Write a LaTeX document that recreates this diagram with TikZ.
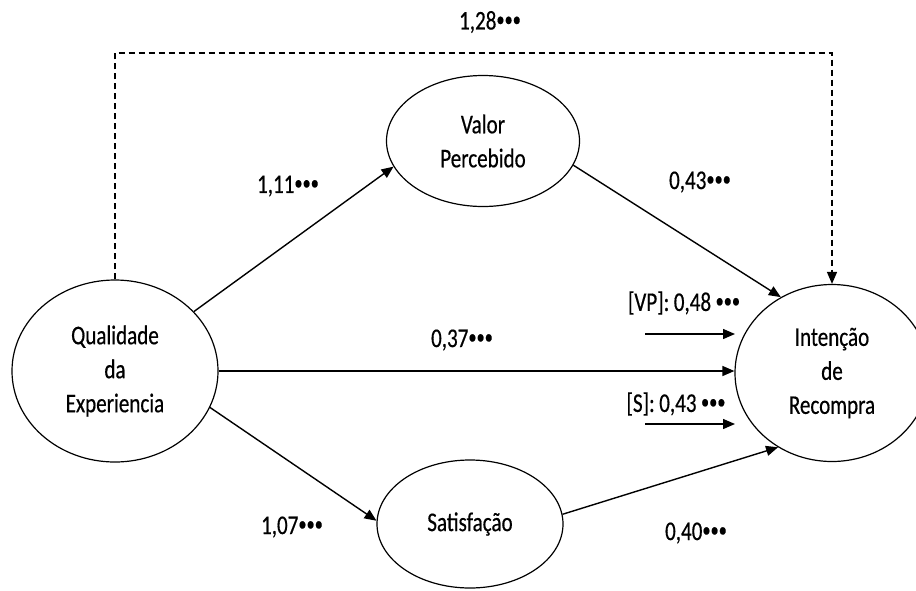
\documentclass[tikz,border=0pt]{standalone}
\usepackage{fontspec}
\setmainfont{Carlito}[FakeStretch=0.78, FakeBold=0.5]
\usetikzlibrary{arrows.meta,shapes.geometric}
\newcommand{\sig}{\raisebox{0.25ex}{\fontsize{21}{21}\selectfont •••}}
\tikzset{
  latent/.style={draw, ellipse, line width=1.2pt, inner sep=0pt, align=center,
    font=\fontsize{27}{34}\selectfont},
  path/.style={line width=1.4pt, -{Triangle[length=12pt,width=10pt]}},
  direct/.style={path, dash pattern=on 6pt off 4pt},
  coef/.style={font=\fontsize{27}{30}\selectfont, inner sep=0pt}
}
\begin{document}
\begin{tikzpicture}[x=1pt,y=-1pt]
\useasboundingbox (0,0) rectangle (916,590);

% latent constructs
\node[latent, minimum width=206, minimum height=182] (qe) at (115,371) {Qualidade\\da\\Experiencia};
\node[latent, minimum width=193, minimum height=131] (vp) at (483,141) {Valor\\Percebido};
\node[latent, minimum width=186, minimum height=128] (sat) at (470,524) {Satisfação};
\node[latent, minimum width=194, minimum height=177] (ir) at (832,373) {Intenção\\de\\Recompra};

% structural paths
\draw[path] (qe.37) -- (vp.196);
\draw[path] (vp.-15) -- (ir.124);
\draw[path] (qe.east) -- (qe.east -| ir.west);
\draw[path] (qe.-21) -- (sat.178);
\draw[path] (sat.6) -- (ir.234);

% total effect
\coordinate (topline) at (0,53);
\draw[direct] (qe.north) -- (qe.north |- topline) -- (ir.north |- topline) -- (ir.north);

% indirect effects
\coordinate (vpind0) at (645,334);
\coordinate (vpind1) at (735,334);
\coordinate (sind0) at (645,424);
\coordinate (sind1) at (735,424);
\draw[path] (vpind0) -- (vpind1);
\draw[path] (sind0) -- (sind1);

% coefficients
\node[coef] (c128) at (490,22) {1,28\sig};
\node[coef] (c111) at (288,186) {1,11\sig};
\node[coef] (c043) at (700,182) {0,43\sig};
\node[coef] (c037) at (462,340) {0,37\sig};
\node[coef] (cvp) at (684,303) {[VP]:\,0,48\,\sig};
\node[coef] (cs) at (676,404) {[S]:\,0,43\,\sig};
\node[coef] (c107) at (292,527) {1,07\sig};
\node[coef] (c040) at (696,533) {0,40\sig};
\end{tikzpicture}
\end{document}
